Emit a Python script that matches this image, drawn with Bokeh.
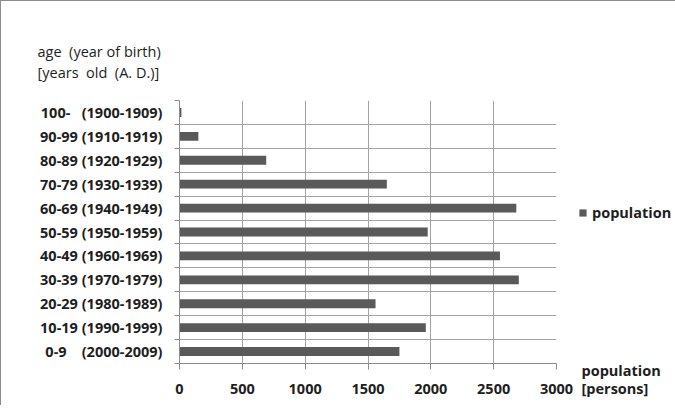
from bokeh.plotting import figure
from bokeh.models import FixedTicker, Range1d, ColumnDataSource, Legend, LegendItem, Title
from bokeh.embed import file_html
from bokeh.resources import INLINE

# Data (bottom to top)
categories = [
    "0-9\u00a0\u00a0\u00a0\u00a0(2000-2009)",
    "10-19 (1990-1999)",
    "20-29 (1980-1989)",
    "30-39 (1970-1979)",
    "40-49 (1960-1969)",
    "50-59 (1950-1959)",
    "60-69 (1940-1949)",
    "70-79 (1930-1939)",
    "80-89 (1920-1929)",
    "90-99 (1910-1919)",
    "100-\u00a0\u00a0\u00a0(1900-1909)",
]
population = [1750, 1960, 1560, 2700, 2550, 1975, 2680, 1650, 690, 150, 15]
x_ticks = [0, 500, 1000, 1500, 2000, 2500, 3000]
title_text = "age\u00a0\u00a0(year of birth)\n[years\u00a0\u00a0old\u00a0\u00a0(A.\u00a0D.)]"
x_title_text = "population\n[persons]"
series_name = "population"

n = len(categories)
positions = [i + 0.5 for i in range(n)]
boundaries = list(range(n + 1))

FONT = "Open Sans"
FS = "14.5px"
GRID = "#a3a3a3"
AXIS = "#8c8c8c"
BAR = "#5a5a5a"
TXT = "#1e1e1e"

p = figure(frame_width=377, frame_height=263, output_backend="svg", toolbar_location=None,
           title=None,
           x_range=Range1d(0, x_ticks[-1]), y_range=Range1d(0, n),
           min_border_left=178, min_border_right=100,
           min_border_top=99, min_border_bottom=42)

src = ColumnDataSource(dict(y=positions, right=population, cat=categories))
bars = p.hbar(y="y", right="right", left=0, height=0.37, source=src,
              fill_color=BAR, line_color=None)

p.outline_line_color = None
p.background_fill_color = "white"
p.border_fill_color = "white"

p.ygrid.ticker = FixedTicker(ticks=boundaries)
p.xgrid.ticker = FixedTicker(ticks=x_ticks)
p.grid.grid_line_color = GRID
p.grid.grid_line_width = 1

ya = p.yaxis[0]
ya.ticker = FixedTicker(ticks=positions, minor_ticks=boundaries)
ya.major_label_overrides = {pos: cat for pos, cat in zip(positions, categories)}
ya.major_tick_line_color = None
ya.major_tick_out = 0
ya.major_tick_in = 0
ya.minor_tick_out = 5
ya.minor_tick_in = 0
ya.minor_tick_line_color = AXIS
ya.axis_line_color = AXIS
ya.major_label_standoff = 12
ya.major_label_text_font = FONT
ya.major_label_text_font_style = "bold"
ya.major_label_text_font_size = FS
ya.major_label_text_color = TXT

xa = p.xaxis[0]
xa.ticker = FixedTicker(ticks=x_ticks)
xa.minor_tick_line_color = None
xa.major_tick_out = 6
xa.major_tick_in = 0
xa.major_tick_line_color = AXIS
xa.axis_line_color = AXIS
xa.major_label_standoff = 14
xa.major_label_text_font = FONT
xa.major_label_text_font_style = "bold"
xa.major_label_text_font_size = FS
xa.major_label_text_color = TXT

lg = Legend(items=[LegendItem(label=series_name, renderers=[bars])],
            location=(22, 141), border_line_color=None, background_fill_alpha=0,
            padding=0, margin=0, glyph_width=9, glyph_height=9, label_standoff=5,
            label_height=16, label_text_font=FONT, label_text_font_style="bold",
            label_text_font_size=FS, label_text_color=TXT)
p.add_layout(lg, "right")

# chart title, top left
p.add_layout(Title(text=title_text, align="left", offset=-142, standoff=36,
                   vertical_align="bottom", text_font=FONT, text_font_size=FS,
                   text_font_style="normal", text_color=TXT,
                   text_line_height=1.12), "above")

# x-axis title, bottom right (pulled up beside the tick labels)
p.add_layout(Title(text=x_title_text, align="left", offset=402, standoff=-72,
                   vertical_align="top", text_font=FONT, text_font_size=FS,
                   text_font_style="bold", text_color=TXT,
                   text_line_height=0.96), "below")

p.styles = {"border-left": "1px solid #8c8c8c", "border-top": "1px solid #8c8c8c",
            "box-sizing": "border-box"}

open("out.html", "w").write(file_html(p, INLINE))
